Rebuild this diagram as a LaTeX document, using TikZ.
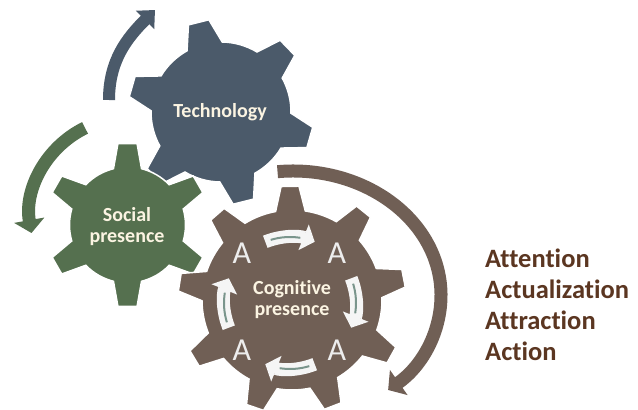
\documentclass[tikz,border=0pt]{standalone}
\usepackage{fontspec}
\setmainfont{Carlito}[Ligatures=NoCommon]
\usetikzlibrary{arrows.meta}
\definecolor{techblue}{HTML}{4B5A6A}
\definecolor{socgreen}{HTML}{55704F}
\definecolor{cogbrown}{HTML}{705F55}
\definecolor{stagebrown}{HTML}{5B3621}
\definecolor{labelcream}{HTML}{FBF4E2}
\definecolor{arrowline}{HTML}{7A958C}

% gear outline: teeth, first tooth angle, root r, outer r, base half angle, tip half angle
\newcommand{\gear}[6]{({#2-#5}:#3)
  \foreach \k in {1,...,#1}{
    -- ({#2+(\k-1)*360/#1-#6}:#4) -- ({#2+(\k-1)*360/#1+#6}:#4) -- ({#2+(\k-1)*360/#1+#5}:#3)
    arc[start angle={#2+(\k-1)*360/#1+#5}, end angle={#2+\k*360/#1-#5}, radius=#3]
  } -- cycle}

\begin{document}
\begin{tikzpicture}[x=1pt,y=1pt,
    gearbody/.style={draw=white, line width=1.5pt},
    gearlabel/.style={text=labelcream, align=center, inner sep=0pt,
      font=\bfseries\fontsize{20}{21}\selectfont},
    turn/.style={line width=13pt, -{Triangle[width=30pt,length=13pt]}},
    inturn/.style={white!96!black, line width=13pt, -{Triangle[width=27pt,length=12pt]}},
    inline/.style={arrowline, line width=2pt},
    letter/.style={text=white!93!black, inner sep=0pt, font=\fontsize{32}{32}\selectfont},
    stagetext/.style={text=stagebrown, anchor=base west, inner sep=0pt,
      font=\bfseries\fontsize{26.5}{31}\selectfont}]
    \fill[white] (0,0) rectangle (638,410);
    \useasboundingbox (0,0) rectangle (638,410);

    % gears
    \filldraw[gearbody, fill=techblue, shift={(221,298)}] \gear{6}{104}{70}{93}{15}{6.5};
    \filldraw[gearbody, fill=socgreen, shift={(127.5,185)}] \gear{6}{90}{58}{82}{14}{6.7};
    \filldraw[gearbody, fill=cogbrown, shift={(292,110)}] \gear{9}{11}{90}{114}{9.5}{4.5};

    \node[gearlabel] (tech) at (220,298) {Technology};
    \node[gearlabel] (social) at (127,183.5) {Social\\presence};
    \node[gearlabel] (cognitive) at (292,110) {Cognitive\\presence};

    % turning arrows round the gears
    \draw[turn, techblue, line width=12pt, -{Triangle[width=25pt,length=14pt]}]
        (109,310) to[out=90, in=225] (155,400);
    \draw[turn, socgreen] (128,194) ++(116:98) arc[start angle=116, end angle=190, radius=98];
    \draw[turn, cogbrown] (293,115) ++(96:148 and 124)
        arc[start angle=96, end angle=-50, x radius=148, y radius=124];

    % the four A's
    \begin{scope}[shift={(290,107)}]
        \foreach \a/\p in {1/{(-48,50)}, 2/{(47,50)}, 3/{(47,-47)}, 4/{(-48,-47)}}
            \node[letter] (a\a) at \p {A};
        \foreach \s in {112,22,-68,-158}
        {
            \draw[inturn] (\s:66) arc[start angle=\s, end angle=\s-44, radius=66];
            \draw[inline] (\s-5:66) arc[start angle=\s-5, end angle=\s-31, radius=66];
        }
    \end{scope}

    % stages
    \foreach \w [count=\i] in {Attention,Actualization,Attraction,Action}
        \node[stagetext] (stage\i) at (485,173-31*\i) {\w};
\end{tikzpicture}
\end{document}
